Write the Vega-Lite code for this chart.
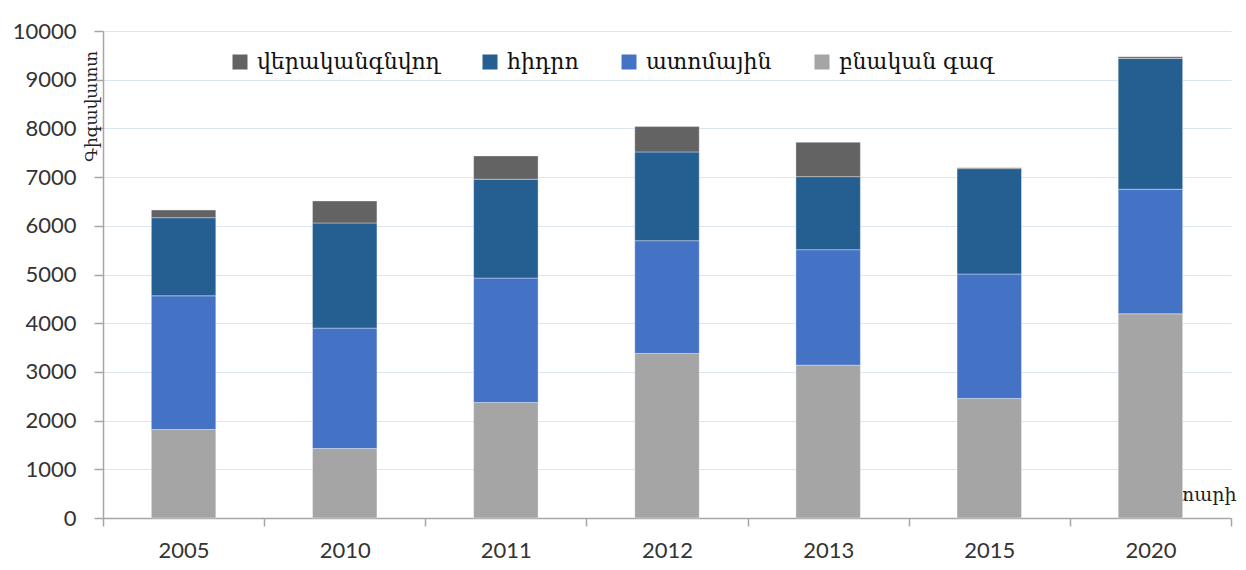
{
  "$schema": "https://vega.github.io/schema/vega-lite/v6.json",
  "autosize": "none",
  "width": 1128,
  "height": 487,
  "padding": {"left": 103, "top": 31, "right": 15, "bottom": 52},
  "background": "white",
  "config": {
    "view": {"stroke": null},
    "axis": {"labelFont": "Lato", "labelFontSize": 22, "labelColor": "#333333", "domainColor": "#A6A6A6", "domainWidth": 1.5, "tickColor": "#A6A6A6", "tickWidth": 1.5}
  },
  "datasets": {
    "energy": [
      {"year": "2005", "source": "բնական գազ", "value": 1817},
      {"year": "2005", "source": "ատոմային", "value": 2746},
      {"year": "2005", "source": "հիդրո", "value": 1603},
      {"year": "2005", "source": "վերականգնվող", "value": 159},
      {"year": "2010", "source": "բնական գազ", "value": 1426},
      {"year": "2010", "source": "ատոմային", "value": 2473},
      {"year": "2010", "source": "հիդրո", "value": 2159},
      {"year": "2010", "source": "վերականգնվող", "value": 452},
      {"year": "2011", "source": "բնական գազ", "value": 2372},
      {"year": "2011", "source": "ատոմային", "value": 2555},
      {"year": "2011", "source": "հիդրո", "value": 2029},
      {"year": "2011", "source": "վերականգնվող", "value": 479},
      {"year": "2012", "source": "բնական գազ", "value": 3379},
      {"year": "2012", "source": "ատոմային", "value": 2315},
      {"year": "2012", "source": "հիդրո", "value": 1823},
      {"year": "2012", "source": "վերականգնվող", "value": 520},
      {"year": "2013", "source": "բնական գազ", "value": 3139},
      {"year": "2013", "source": "ատոմային", "value": 2370},
      {"year": "2013", "source": "հիդրո", "value": 1500},
      {"year": "2013", "source": "վերականգնվող", "value": 707},
      {"year": "2015", "source": "բնական գազ", "value": 2454},
      {"year": "2015", "source": "ատոմային", "value": 2555},
      {"year": "2015", "source": "հիդրո", "value": 2165},
      {"year": "2015", "source": "վերականգնվող", "value": 20},
      {"year": "2020", "source": "բնական գազ", "value": 4193},
      {"year": "2020", "source": "ատոմային", "value": 2557},
      {"year": "2020", "source": "հիդրո", "value": 2685},
      {"year": "2020", "source": "վերականգնվող", "value": 35}
    ],
    "sources": [
      {"source": "բնական գազ", "rank": 1},
      {"source": "ատոմային", "rank": 2},
      {"source": "հիդրո", "rank": 3},
      {"source": "վերականգնվող", "rank": 4}
    ]
  },
  "data": {"name": "energy"},
  "transform": [
    {"lookup": "source", "from": {"data": {"name": "sources"}, "key": "source", "fields": ["rank"]}}
  ],
  "mark": {"type": "bar", "width": {"band": 0.4}, "stroke": "#ffffff", "strokeWidth": 0.6, "strokeOpacity": 0.6},
  "encoding": {
    "x": {
      "field": "year",
      "type": "ordinal",
      "scale": {"type": "band", "paddingInner": 0, "paddingOuter": 0},
      "axis": {
        "labelAngle": 0,
        "tickBand": "extent",
        "tickSize": 8,
        "labelPadding": 14,
        "title": "տարի",
        "titleFont": "DejaVu Serif",
        "titleFontSize": 19,
        "titleFontWeight": "normal",
        "titleColor": "#222222",
        "titleAnchor": "start",
        "titleAlign": "right",
        "titleBaseline": "alphabetic",
        "titleX": 1133,
        "titleY": -18
      }
    },
    "y": {
      "field": "value",
      "type": "quantitative",
      "stack": "zero",
      "scale": {"domain": [0, 10000], "nice": false},
      "axis": {
        "values": [0, 1000, 2000, 3000, 4000, 5000, 6000, 7000, 8000, 9000, 10000],
        "format": "d",
        "gridColor": "#DCE6F2",
        "gridWidth": 1.2,
        "tickSize": 9,
        "labelPadding": 18,
        "title": "Գիգավատտ",
        "titleFont": "DejaVu Serif",
        "titleFontSize": 17,
        "titleFontWeight": "normal",
        "titleColor": "#222222",
        "titleAngle": -90,
        "titleAnchor": "start",
        "titleAlign": "center",
        "titleBaseline": "middle",
        "titleX": -12,
        "titleY": 75
      }
    },
    "order": {"field": "rank", "type": "quantitative", "sort": "ascending"},
    "color": {
      "field": "source",
      "type": "nominal",
      "sort": ["վերականգնվող", "հիդրո", "ատոմային", "բնական գազ"],
      "scale": {
        "range": ["#636363", "#255E91", "#4472C4", "#A5A5A5"]
      },
      "legend": {
        "title": null,
        "orient": "none",
        "direction": "horizontal",
        "legendX": 126,
        "legendY": 20,
        "symbolType": "square",
        "symbolSize": 225,
        "symbolStrokeWidth": 0,
        "symbolOpacity": 1,
        "labelFont": "DejaVu Serif",
        "labelFontSize": 22,
        "labelColor": "#111111",
        "labelOffset": 6,
        "columnPadding": 39,
        "labelLimit": 400
      }
    }
  }
}
